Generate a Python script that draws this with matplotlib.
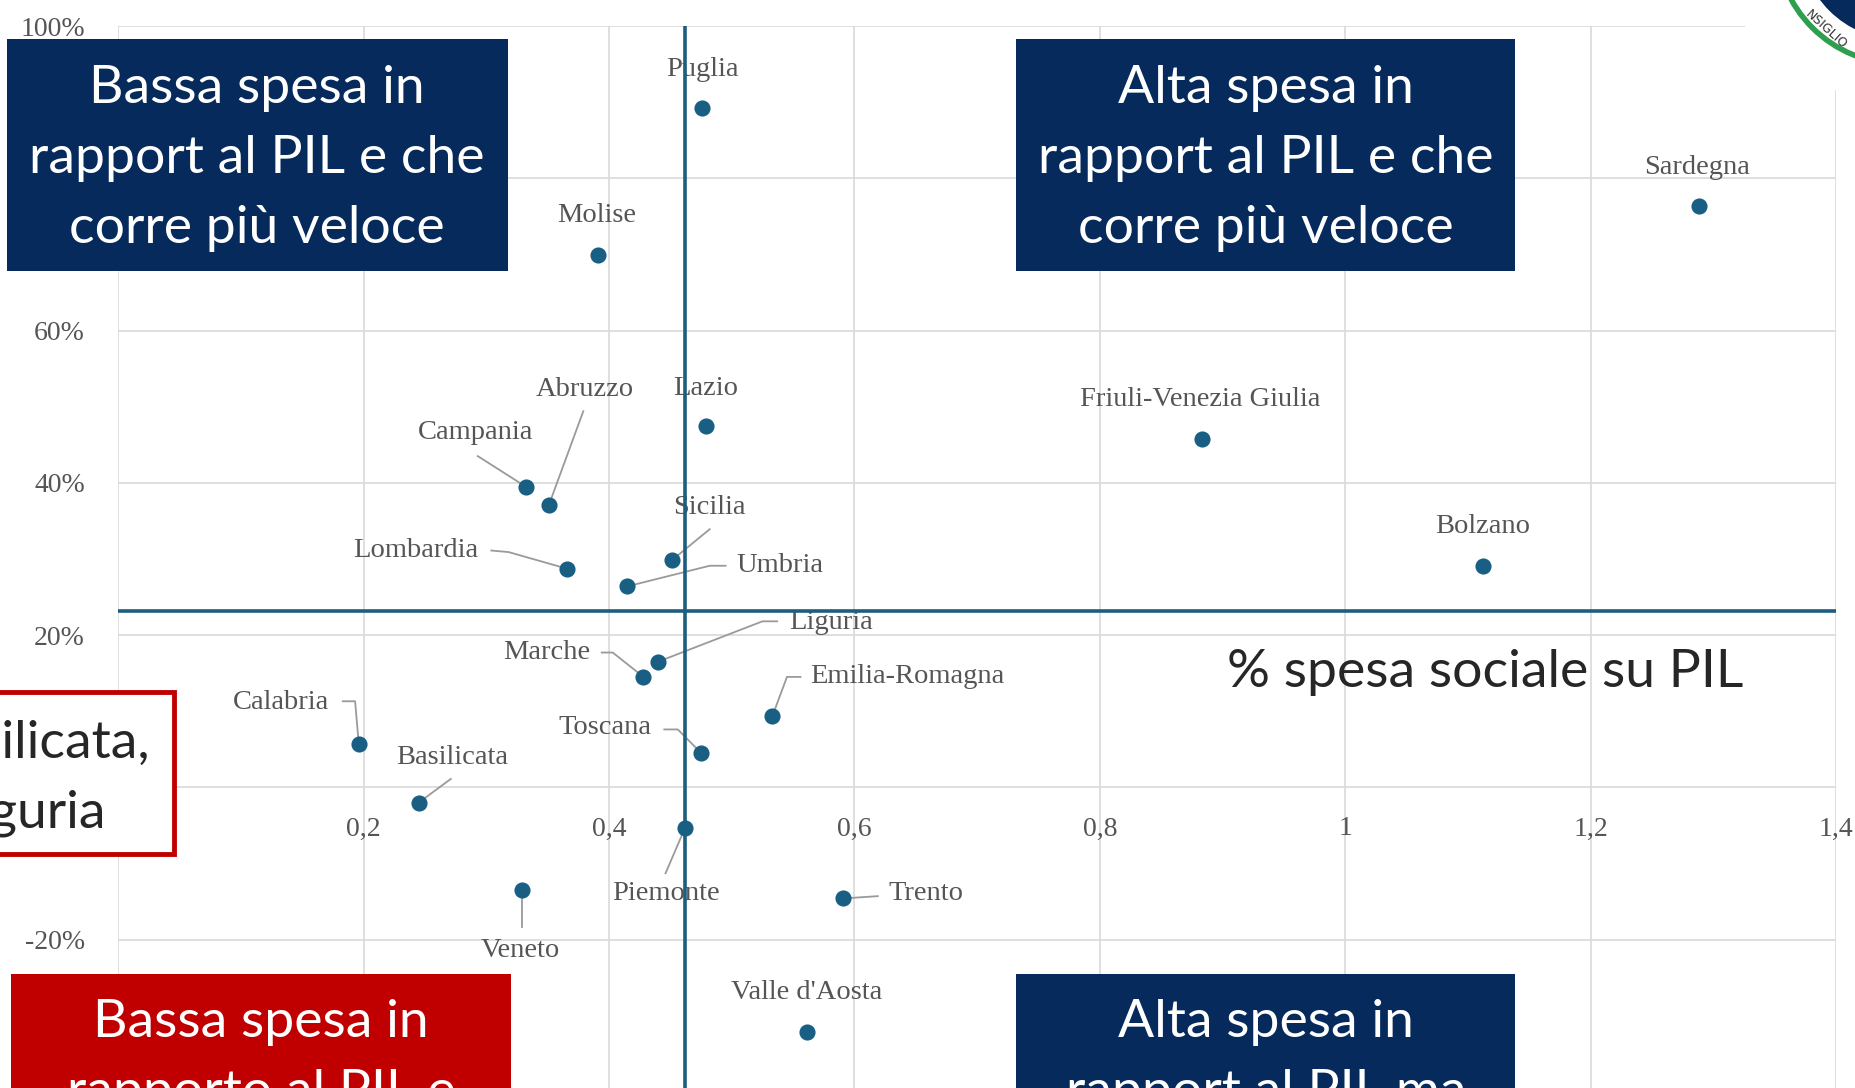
import matplotlib
matplotlib.use("Agg")
import matplotlib.pyplot as plt
from matplotlib.patches import Rectangle, Circle

# --- data: x = spesa sociale su PIL, y = crescita (%) ---
regioni = ["Puglia", "Molise", "Sardegna", "Lazio", "Friuli-Venezia Giulia",
           "Campania", "Abruzzo", "Sicilia", "Lombardia", "Umbria", "Bolzano",
           "Liguria", "Marche", "Emilia-Romagna", "Calabria", "Toscana",
           "Basilicata", "Piemonte", "Veneto", "Trento", "Valle d'Aosta"]
spesa_pil = [0.476, 0.391, 1.288, 0.479, 0.883,
             0.332, 0.351, 0.451, 0.366, 0.415, 1.112,
             0.440, 0.428, 0.533, 0.196, 0.475,
             0.245, 0.462, 0.329, 0.591, 0.561]
crescita = [89.2, 69.9, 76.3, 47.4, 45.7,
            39.5, 37.1, 29.8, 28.7, 26.4, 29.1,
            16.5, 14.5, 9.3, 5.7, 4.5,
            -2.0, -5.3, -13.5, -14.6, -32.2]

soglia_x = 0.4617
soglia_y = 23.15

x_ticks = [0, 0.2, 0.4, 0.6, 0.8, 1.0, 1.2, 1.4]
x_tick_labels = ["0", "0,2", "0,4", "0,6", "0,8", "1", "1,2", "1,4"]
y_ticks = [-20, 0, 20, 40, 60, 80, 100]
y_tick_labels = ["-20%", "0%", "20%", "40%", "60%", "80%", "100%"]

# label placement (text centre) and leader line bends, in data units
label_pos = {
    "Puglia": (0.476, 94.3), "Molise": (0.390, 75.1), "Sardegna": (1.287, 81.4),
    "Lazio": (0.479, 52.4), "Friuli-Venezia Giulia": (0.882, 51.0),
    "Campania": (0.291, 46.6), "Abruzzo": (0.380, 52.2), "Sicilia": (0.482, 36.8),
    "Lombardia": (0.242, 31.1), "Umbria": (0.539, 29.1), "Bolzano": (1.112, 34.3),
    "Liguria": (0.581, 21.6), "Marche": (0.349, 17.7), "Emilia-Romagna": (0.643, 14.5),
    "Calabria": (0.133, 11.2), "Toscana": (0.397, 7.8), "Basilicata": (0.272, 3.9),
    "Piemonte": (0.446, -14.0), "Veneto": (0.328, -21.4), "Trento": (0.658, -14.0),
    "Valle d'Aosta": (0.561, -26.9),
}
leaders = {
    "Campania": [(0.293, 43.5)],
    "Abruzzo": [(0.379, 49.4)],
    "Sicilia": [(0.482, 33.9)],
    "Lombardia": [(0.304, 31.1), (0.318, 30.9)],
    "Umbria": [(0.495, 29.1), (0.482, 29.1)],
    "Liguria": [(0.537, 21.8), (0.525, 21.8)],
    "Marche": [(0.394, 17.7), (0.403, 17.7)],
    "Emilia-Romagna": [(0.556, 14.5), (0.545, 14.5)],
    "Calabria": [(0.183, 11.3), (0.193, 11.3)],
    "Toscana": [(0.445, 7.6), (0.456, 7.6)],
    "Basilicata": [(0.271, 1.1)],
    "Piemonte": [(0.446, -11.3)],
    "Veneto": [(0.329, -18.3)],
    "Trento": [(0.619, -14.3)],
}

W, H = 1855, 1088
fig = plt.figure(figsize=(W / 100, H / 100), dpi=100)
fig.patch.set_facecolor("white")


def fx(x):
    return x / W


def fy(y):
    return 1 - y / H


ax = fig.add_axes([118.3 / W, 0, (1836 - 118.3) / W, 1 - 26 / H])
ax.set_xlim(0, 1.4)
ax.set_ylim(-39.5, 100)

serif = "Liberation Serif"
grey_txt = "#555555"
dot_col = "#195f84"
line_col = "#1d5d7e"

for s in ax.spines.values():
    s.set_visible(False)
ax.spines["bottom"].set_position(("data", 0))
ax.set_xticks(x_ticks, x_tick_labels)
ax.set_yticks(y_ticks, y_tick_labels)
ax.tick_params(axis="x", length=0, pad=21, labelsize=20, labelcolor=grey_txt)
ax.tick_params(axis="y", length=0, pad=24, labelsize=20, labelcolor=grey_txt)
for lab in ax.get_xticklabels() + ax.get_yticklabels():
    lab.set_fontfamily(serif)
ax.grid(True, color="#d9d9d9", linewidth=1.2, zorder=0)
ax.set_axisbelow(True)

# labels and leader lines
for name, x, y in zip(regioni, spesa_pil, crescita):
    lx, ly = label_pos[name]
    ax.text(lx, ly, name, ha="center", va="center", fontsize=20.5,
            family=serif, color=grey_txt, zorder=2)
    if name in leaders:
        pts = leaders[name] + [(x, y)]
        ax.plot([p[0] for p in pts], [p[1] for p in pts], color="#9a9a9a",
                linewidth=1.3, zorder=2.5)

ax.axvline(soglia_x, color=line_col, linewidth=2.6, zorder=3)
ax.axhline(soglia_y, color=line_col, linewidth=2.6, zorder=3)
ax.scatter(spesa_pil, crescita, s=135, color=dot_col, zorder=4, linewidths=0)

# --- overlay boxes (slide annotations) ---
navy = "#052a5b"
red = "#c00000"
box_font = "Lato"
box_size = 38.5


def add_box(x0, y0, x1, y1, color, lines, line_y, cx):
    fig.add_artist(Rectangle((fx(x0), fy(y1)), fx(x1 - x0), (y1 - y0) / H,
                             transform=fig.transFigure, facecolor=color,
                             edgecolor="none", zorder=5))
    for t, yy in zip(lines, line_y):
        fig.text(fx(cx), fy(yy), t, ha="center", va="center", color="white",
                 fontsize=box_size, family=box_font, zorder=6)


add_box(7, 39, 508, 271, navy,
        ["Bassa spesa in", "rapport al PIL e che", "corre più veloce"],
        [88, 159, 229], 257)
add_box(1016, 39, 1515, 271, navy,
        ["Alta spesa in", "rapport al PIL e che", "corre più veloce"],
        [88, 159, 229], 1266)
add_box(11, 974, 511, 1100, red,
        ["Bassa spesa in", "rapporto al PIL e"], [1022, 1093], 261)
add_box(1016, 974, 1515, 1100, navy,
        ["Alta spesa in", "rapport al PIL ma"], [1022, 1093], 1266)

# red outlined note box, cut at the left edge
fig.add_artist(Rectangle((fx(-20), fy(854)), fx(194), 162 / H,
                         transform=fig.transFigure, facecolor="white",
                         edgecolor=red, linewidth=3.5, zorder=5))
fig.text(fx(150), fy(743), "Basilicata,", ha="right", va="center",
         fontsize=box_size, family=box_font, color="#262626", zorder=6)
fig.text(fx(106), fy(813), "Liguria", ha="right", va="center",
         fontsize=box_size, family=box_font, color="#262626", zorder=6)

fig.text(fx(1485), fy(672), "% spesa sociale su PIL", ha="center", va="center",
         fontsize=box_size, family=box_font, color="#262626", zorder=6)

# logo corner (pixel-true circle via inch transform)
fig.add_artist(Rectangle((fx(1745), fy(90)), fx(W - 1745), 90 / H,
                         transform=fig.transFigure, facecolor="white",
                         edgecolor="none", zorder=5))
logo_c = (19.00, (H + 60) / 100)
fig.add_artist(Circle(logo_c, 1.24, transform=fig.dpi_scale_trans,
                      facecolor="white", edgecolor="#2e9e4f", linewidth=4,
                      zorder=6))
fig.add_artist(Circle(logo_c, 1.00, transform=fig.dpi_scale_trans,
                      facecolor=navy, edgecolor="none", zorder=7))
fig.text(fx(1826), fy(30), "NSIGLIO", rotation=-42, ha="center", va="center",
         fontsize=9, color="#333333", family="DejaVu Sans", zorder=8)

fig.savefig("out.png", dpi=100)
